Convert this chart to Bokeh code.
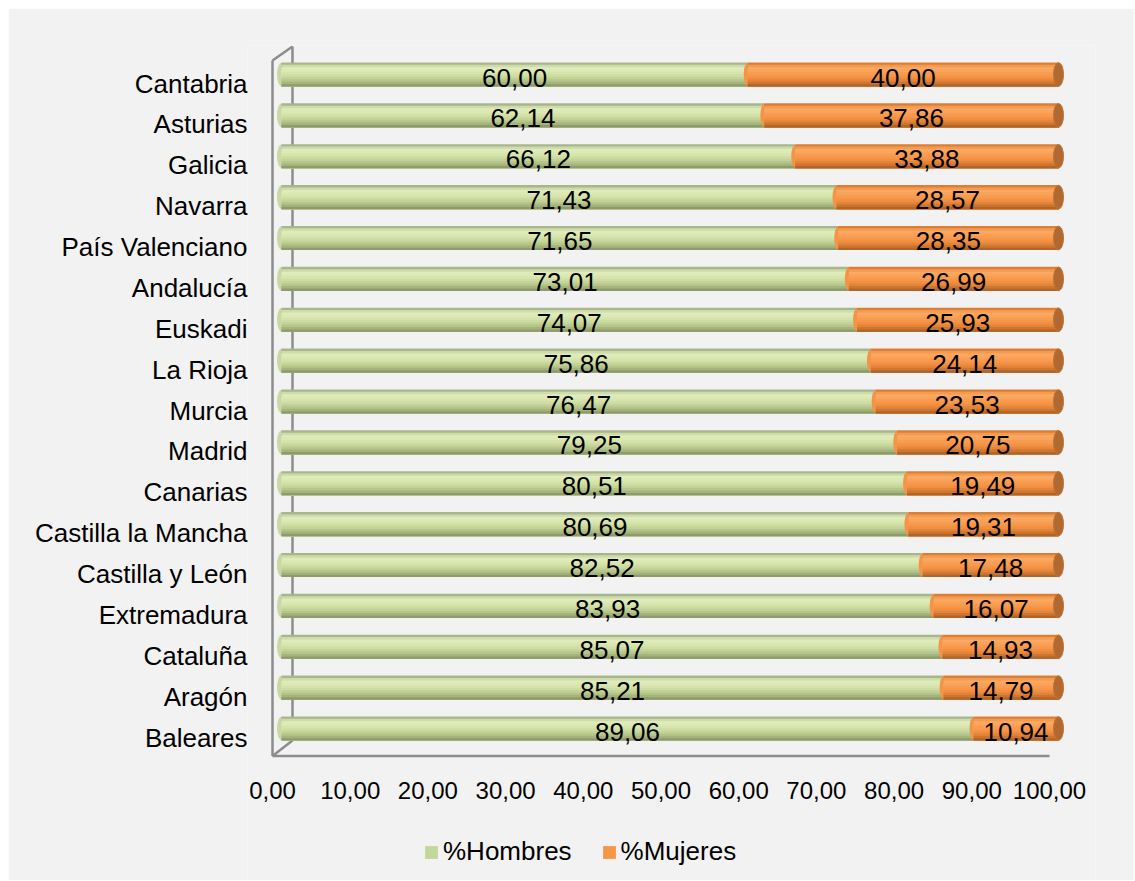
from bokeh.plotting import figure
from bokeh.models import (Range1d, LinearAxis, FixedTicker, ColumnDataSource,
                          Legend, LegendItem)
from bokeh.embed import file_html
from bokeh.resources import INLINE
from bokeh.core.properties import value

# ---------------- data ----------------
regions = ["Baleares", "Aragón", "Cataluña", "Extremadura", "Castilla y León",
           "Castilla la Mancha", "Canarias", "Madrid", "Murcia", "La Rioja",
           "Euskadi", "Andalucía", "País Valenciano", "Navarra", "Galicia",
           "Asturias", "Cantabria"]
hombres = [89.06, 85.21, 85.07, 83.93, 82.52, 80.69, 80.51, 79.25, 76.47, 75.86,
           74.07, 73.01, 71.65, 71.43, 66.12, 62.14, 60.00]
mujeres = [10.94, 14.79, 14.93, 16.07, 17.48, 19.31, 19.49, 20.75, 23.53, 24.14,
           25.93, 26.99, 28.35, 28.57, 33.88, 37.86, 40.00]
x_ticks = [0, 10, 20, 30, 40, 50, 60, 70, 80, 90, 100]
series_names = ["%Hombres", "%Mujeres"]
series_colors = ["#c3d69b", "#f79646"]

# ---------------- styling constants ----------------
FONT = "Liberation Sans"
BG = "#f2f2f2"
OFF = 8                      # figure offset on page
W, H = 1126, 872
FRAME_L, FRAME_R, FRAME_T, FRAME_B = 247, 1095, 45, OFF + H   # page px
FLOOR_PX = 757                # 3D floor (front edge) on page
X0_PX, SX = 281.0, 7.77       # bar value 0 position, px per unit
Y0_PX, SY = 728.0, 40.875     # first bar center, px per category
AX0_PX = 272.0                # tick axis zero (3D front)
LAB0_PX = 737.0               # category label for first row (3D front)
TICK_LAB_PX = 790             # tick label centre line
LEG_X_PX, LEG_BOTTOM_PX = 423, 867
BAR_H = 0.59
N_STRIPES = 10
GREEN_GRAD = ["#a9b58d", "#cddcaa", "#dfebb9", "#dde9b4", "#d6e4ac",
              "#cddca2", "#c3d398", "#b6c68a", "#a5b47c", "#8f9b6c"]
ORANGE_GRAD = ["#d97f38", "#f59a4f", "#fba862", "#faa35a", "#f89c51",
               "#f79648", "#f08e41", "#e3843a", "#cd7631", "#b0652a"]
WALL = "#8c8c8c"

def px2x(px):
    return (px - X0_PX) / SX

def py2y(py):
    return (Y0_PX - py) / SY

xs, xe = px2x(FRAME_L), px2x(FRAME_R)
ys, ye = py2y(FRAME_B), py2y(FRAME_T)

p = figure(width=W, height=H, output_backend="svg", toolbar_location=None,
           x_range=Range1d(xs, xe), y_range=Range1d(ys, ye),
           x_axis_location=None, y_axis_location=None,
           min_border_left=FRAME_L - OFF, min_border_right=OFF + W - FRAME_R,
           min_border_top=FRAME_T - OFF, min_border_bottom=0)
p.styles = {"margin-left": f"{OFF}px", "margin-top": f"{OFF}px"}
p.background_fill_color = BG
p.border_fill_color = BG
p.outline_line_color = None
p.xgrid.visible = False
p.ygrid.visible = False

# extra ranges for the 3D-front scales (tick labels and category labels)
p.extra_x_ranges = {"ax": Range1d((FRAME_L - AX0_PX) / SX, (FRAME_R - AX0_PX) / SX)}
p.extra_y_ranges = {"ay": Range1d((LAB0_PX - FRAME_B) / SY, (LAB0_PX - FRAME_T) / SY)}

idx = list(range(len(regions)))
yaxis = LinearAxis(y_range_name="ay", ticker=FixedTicker(ticks=idx),
                   major_label_overrides={i: r for i, r in zip(idx, regions)})
yaxis.axis_line_color = None
yaxis.major_tick_line_color = None
yaxis.minor_tick_line_color = None
yaxis.major_tick_out = 0
yaxis.major_tick_in = 0
yaxis.minor_tick_out = 0
yaxis.major_label_text_font = FONT
yaxis.major_label_text_font_size = "26px"
yaxis.major_label_text_color = "black"
yaxis.major_label_standoff = 0
p.add_layout(yaxis, "left")

# value-axis tick labels (drawn on the 3D-front scale)
fmt = lambda v: f"{v:.2f}".replace(".", ",")
tick_src = ColumnDataSource(dict(x=x_ticks, y=[py2y(TICK_LAB_PX)] * len(x_ticks),
                                 t=[fmt(t) for t in x_ticks]))
p.text(x="x", y="y", text="t", source=tick_src, x_range_name="ax",
       text_align="center", text_baseline="middle", text_font=value(FONT),
       text_font_size="24px", text_color="black")

# 3D wall / floor
p.line([px2x(AX0_PX + 20)] * 2, [py2y(FRAME_T + 1), py2y(FLOOR_PX - 17)], line_color=WALL, line_width=2.5)
p.line([px2x(AX0_PX)] * 2, [py2y(FRAME_T + 15), py2y(FLOOR_PX - 1.5)], line_color=WALL, line_width=2.5)
p.line([px2x(AX0_PX), px2x(AX0_PX + 20)], [py2y(FRAME_T + 15), py2y(FRAME_T + 1)], line_color=WALL, line_width=2.5)
p.line([px2x(AX0_PX), px2x(AX0_PX + 20)], [py2y(FLOOR_PX - 1.5), py2y(FLOOR_PX - 17)], line_color=WALL, line_width=2.5)
p.line([0, 100], [py2y(FLOOR_PX - 1.5)] * 2, x_range_name="ax",
       line_color=WALL, line_width=2.5)

idx_f = [float(i) for i in idx]
zeros = [0.0] * len(idx)

# left caps of green cylinders (under stripes)
p.ellipse(x=zeros, y=idx_f, width=9, height=BAR_H * 0.98, width_units="screen",
          fill_color="#c9d8a3", line_color=None)

stripe_h = BAR_H / N_STRIPES

def stripes(left, right, colors):
    # nested bars: each one from its stripe top down to the bar bottom
    for j, c in enumerate(colors):
        top = BAR_H / 2 - stripe_h * j
        bot = -BAR_H / 2
        ycs = [i + (top + bot) / 2 for i in idx]
        p.hbar(y=ycs, left=left, right=right, height=top - bot,
               fill_color=c, line_color=None)

stripes(zeros, hombres, GREEN_GRAD)

# convex start of orange segment
p.ellipse(x=hombres, y=idx_f, width=8, height=BAR_H * 0.96, width_units="screen",
          fill_color="#f39447", line_color=None)
ends = [h + m for h, m in zip(hombres, mujeres)]
stripes(hombres, ends, ORANGE_GRAD)

# right end caps
p.ellipse(x=ends, y=idx_f, width=10, height=BAR_H * 0.98, width_units="screen",
          fill_color="#b06a31", line_color="#c27433", line_width=1)

# data labels
lab = ColumnDataSource(dict(
    x=[h / 2 for h in hombres] + [h + m / 2 for h, m in zip(hombres, mujeres)],
    y=idx_f + idx_f,
    t=[fmt(v) for v in hombres] + [fmt(v) for v in mujeres]))
p.text(x="x", y="y", text="t", source=lab, text_align="center",
       text_baseline="middle", y_offset=3, text_font=value(FONT),
       text_font_size="26px", text_color="black")

# legend (swatch renderers sit outside the visible range)
items = []
for name, col in zip(series_names, series_colors):
    r = p.hbar(y=[ys - 50], left=[0], right=[1], height=0.5, fill_color=col, line_color=None)
    items.append(LegendItem(label=name, renderers=[r]))
legend = Legend(items=items, orientation="horizontal",
                location=(LEG_X_PX - FRAME_L, FRAME_B - LEG_BOTTOM_PX),
                glyph_width=16, glyph_height=16, label_standoff=4, spacing=29,
                padding=0, margin=0, border_line_color=None, background_fill_alpha=0,
                label_text_font=FONT, label_text_font_size="26px",
                label_text_color="black")
p.add_layout(legend, "center")

open("out.html", "w").write(file_html(p, INLINE))
